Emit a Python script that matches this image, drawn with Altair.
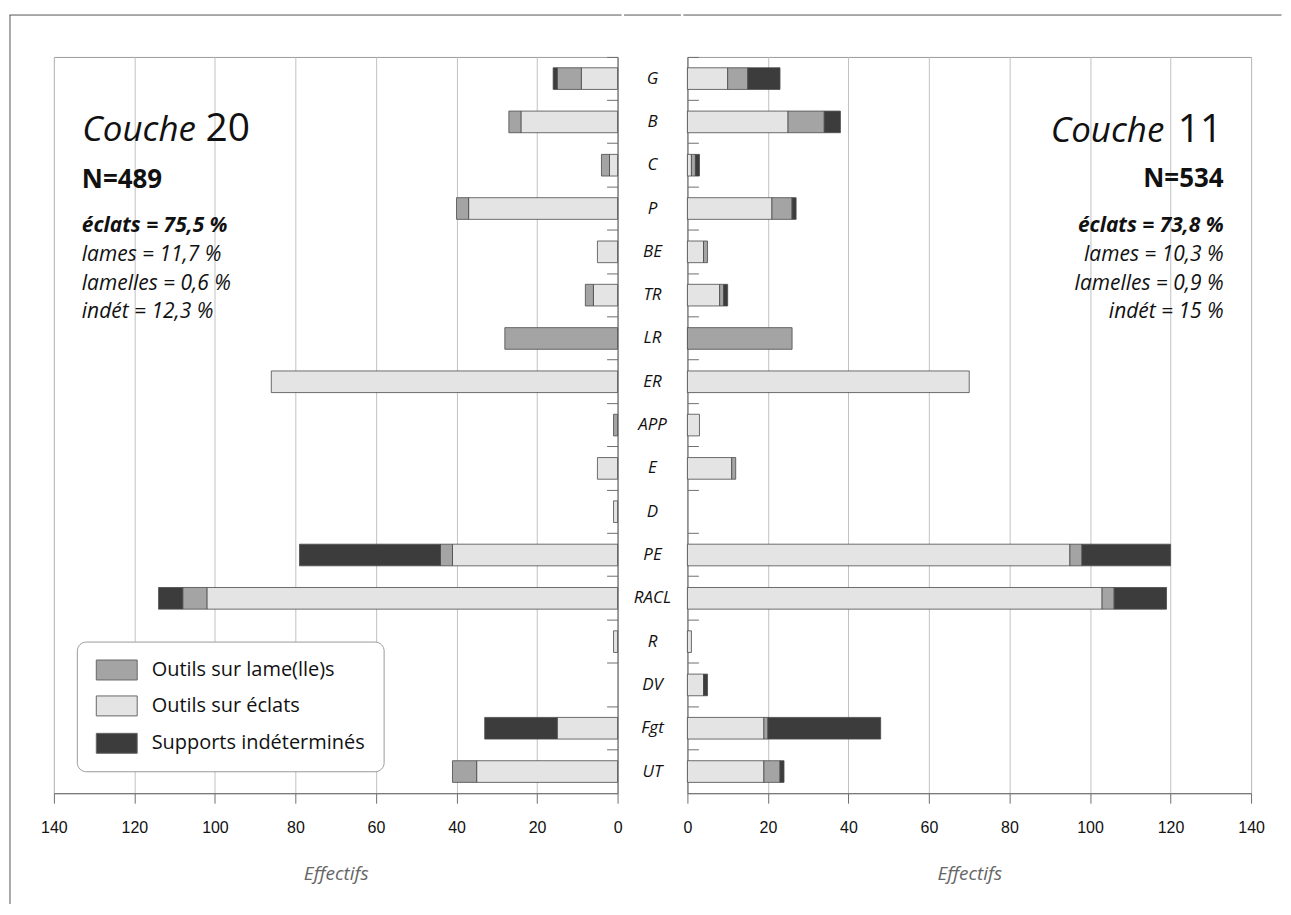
import altair as alt
import pandas as pd

# ---------------- data ----------------
categories = ["G", "B", "C", "P", "BE", "TR", "LR", "ER", "APP", "E", "D",
              "PE", "RACL", "R", "DV", "Fgt", "UT"]
types = ["Outils sur éclats", "Outils sur lame(lle)s", "Supports indéterminés"]
type_colors = ["#e4e4e4", "#a4a4a4", "#3c3c3c"]

# Couche 20 (left)
c20_eclats = [9, 24, 2, 37, 5, 6, 0, 86, 0, 5, 1, 41, 102, 1, 0, 15, 35]
c20_lames = [6, 3, 2, 3, 0, 2, 28, 0, 1, 0, 0, 3, 6, 0, 0, 0, 6]
c20_indet = [1, 0, 0, 0, 0, 0, 0, 0, 0, 0, 0, 35, 6, 0, 0, 18, 0]

# Couche 11 (right)
c11_eclats = [10, 25, 1, 21, 4, 8, 0, 70, 3, 11, 0, 95, 103, 1, 4, 19, 19]
c11_lames = [5, 9, 1, 5, 1, 1, 26, 0, 0, 1, 0, 3, 3, 0, 0, 1, 4]
c11_indet = [8, 4, 1, 1, 0, 1, 0, 0, 0, 0, 0, 22, 13, 0, 1, 28, 1]

x_ticks = [0, 20, 40, 60, 80, 100, 120, 140]

left_word, left_num = "Couche", "20"
left_n = "N=489"
left_stats_bold = "éclats = 75,5 %"
left_stats = ["lames = 11,7 %", "lamelles = 0,6 %", "indét = 12,3 %"]

right_word, right_num = "Couche", "11"
right_n = "N=534"
right_stats_bold = "éclats = 73,8 %"
right_stats = ["lames = 10,3 %", "lamelles = 0,9 %", "indét = 15 %"]

legend_labels = ["Outils sur lame(lle)s", "Outils sur éclats", "Supports indéterminés"]
legend_colors = ["#a4a4a4", "#e4e4e4", "#3c3c3c"]
axis_title = "Effectifs"

# ---------------- layout constants ----------------
PW, PH = 565, 738
MID_W = 56
FRAME = "#555555"
AXC = "#6e6e6e"
FONT = "Open Sans"
TOP = -42


def long_df(eclats, lames, indet):
    rows = []
    for i, c in enumerate(categories):
        for k, vals in enumerate([eclats, lames, indet]):
            if vals[i] > 0:
                rows.append({"cat": c, "type": types[k], "value": vals[i], "ord": k})
    return pd.DataFrame(rows)


dummy = pd.DataFrame({"d": [0]})


def y_enc(axis):
    return alt.Y("cat:N", sort=categories,
                 scale=alt.Scale(domain=categories, paddingInner=0, paddingOuter=0),
                 axis=axis, title=None)


def bars(df, reverse, y_orient):
    xaxis = alt.Axis(values=x_ticks, title=axis_title, grid=True, gridColor="#c2c2c2",
                     gridWidth=1, format="d", labelFlush=False)
    yaxis = alt.Axis(orient=y_orient, offset=-PW, labels=False, ticks=True, tickSize=11,
                     bandPosition=0, domain=True, domainColor=AXC, tickColor=AXC,
                     grid=False, title=None)
    return alt.Chart(df).mark_bar(height={"band": 0.5}, stroke="#4a4a4a", strokeWidth=0.8).encode(
        x=alt.X("value:Q", stack="zero",
                scale=alt.Scale(domain=[0, 140], reverse=reverse, nice=False),
                axis=xaxis),
        y=y_enc(yaxis),
        fill=alt.Fill("type:N", scale=alt.Scale(domain=types, range=type_colors), legend=None),
        order=alt.Order("ord:Q", sort="ascending"),
    )


def txt(text, x, y, size, align="left", style="normal", weight="normal",
        baseline="alphabetic", line_height=None, color="#111111"):
    props = dict(font=FONT, fontSize=size, fontStyle=style, fontWeight=weight,
                 align=align, baseline=baseline, color=color)
    if line_height is not None:
        props["lineHeight"] = line_height
    return alt.Chart(dummy).mark_text(**props).encode(
        x=alt.value(x), y=alt.value(y), text=alt.value(text))


def hrule(x1, x2, y, color=FRAME):
    return alt.Chart(dummy).mark_rule(color=color, strokeWidth=1, strokeCap="square").encode(
        x=alt.value(x1), x2=alt.value(x2), y=alt.value(y))


def vrule(x, y1, y2, color=FRAME):
    return alt.Chart(dummy).mark_rule(color=color, strokeWidth=1).encode(
        x=alt.value(x), y=alt.value(y1), y2=alt.value(y2))


def box(x1, x2, y1, y2, fill, stroke, radius=0):
    return alt.Chart(dummy).mark_rect(fill=fill, stroke=stroke, strokeWidth=1,
                                      cornerRadius=radius).encode(
        x=alt.value(x1), x2=alt.value(x2), y=alt.value(y1), y2=alt.value(y2))


# ---------------- left panel ----------------
left_layers = [bars(long_df(c20_eclats, c20_lames, c20_indet), True, "left")]
left_layers += [
    txt(left_word, 28.5, 84, 35, style="italic"),
    txt(left_num, 152, 84, 39),
    txt(left_n, 28, 131, 26, weight="bold"),
    txt(left_stats_bold, 28, 175, 21, style="italic", weight="bold"),
    txt(left_stats, 28, 205, 21, style="italic", line_height=28.3),
]
# legend
left_layers.append(box(23.5, 331, 586.5, 716.5, "white", "#9a9a9a", radius=9))
leg_y = [604.5, 640.5, 678]
for lab, col, yy in zip(legend_labels, legend_colors, leg_y):
    left_layers.append(box(42.5, 83.5, yy, yy + 20, col, "#666666"))
    left_layers.append(txt(lab, 98, yy + 10, 20, baseline="middle"))
# outer frame parts
left_layers.append(hrule(-44, 568.5, TOP))
left_layers.append(vrule(-44, TOP, 849))

left = alt.layer(*left_layers).properties(width=PW, height=PH)

# ---------------- middle labels ----------------
mid_labels = alt.Chart(pd.DataFrame({"cat": categories})).mark_text(
    font=FONT, fontStyle="italic", fontSize=17, color="#111111", baseline="middle"
).encode(y=y_enc(None), text="cat:N", x=alt.value(MID_W / 2))
mid = alt.layer(mid_labels, hrule(0, MID_W, TOP)).properties(
    width=MID_W, height=PH, view=alt.ViewBackground(stroke="transparent"))

# ---------------- right panel ----------------
RX = 537.5
right_layers = [bars(long_df(c11_eclats, c11_lames, c11_indet), False, "right")]
right_layers += [
    txt(right_word, 478, 85, 35, align="right", style="italic"),
    txt(right_num, 536, 85, 39, align="right"),
    txt(right_n, RX, 130, 26, align="right", weight="bold"),
    txt(right_stats_bold, RX, 175, 21, align="right", style="italic", weight="bold"),
    txt(right_stats, RX, 205, 21, align="right", style="italic", line_height=28.3),
]
right_layers.append(hrule(-3.5, 595, TOP))
right = alt.layer(*right_layers).properties(width=PW, height=PH)

chart = (
    alt.hconcat(left, mid, right, spacing=0)
    .resolve_scale(x="independent", y="independent")
    .properties(padding={"left": 0, "top": 4, "right": 0, "bottom": 0})
    .configure(background="white")
    .configure_view(stroke="#9a9a9a", strokeWidth=1)
    .configure_axisX(
        domainColor=AXC, tickColor=AXC, tickSize=10, labelPadding=16,
        labelFont="Liberation Sans", labelFontSize=16, labelColor="#111111",
        titleFont=FONT, titleFontStyle="italic", titleFontWeight="normal",
        titleFontSize=19, titleColor="#666666", titlePadding=29,
    )
)

chart.save("out.html", embed_options={"renderer": "svg", "actions": False})
